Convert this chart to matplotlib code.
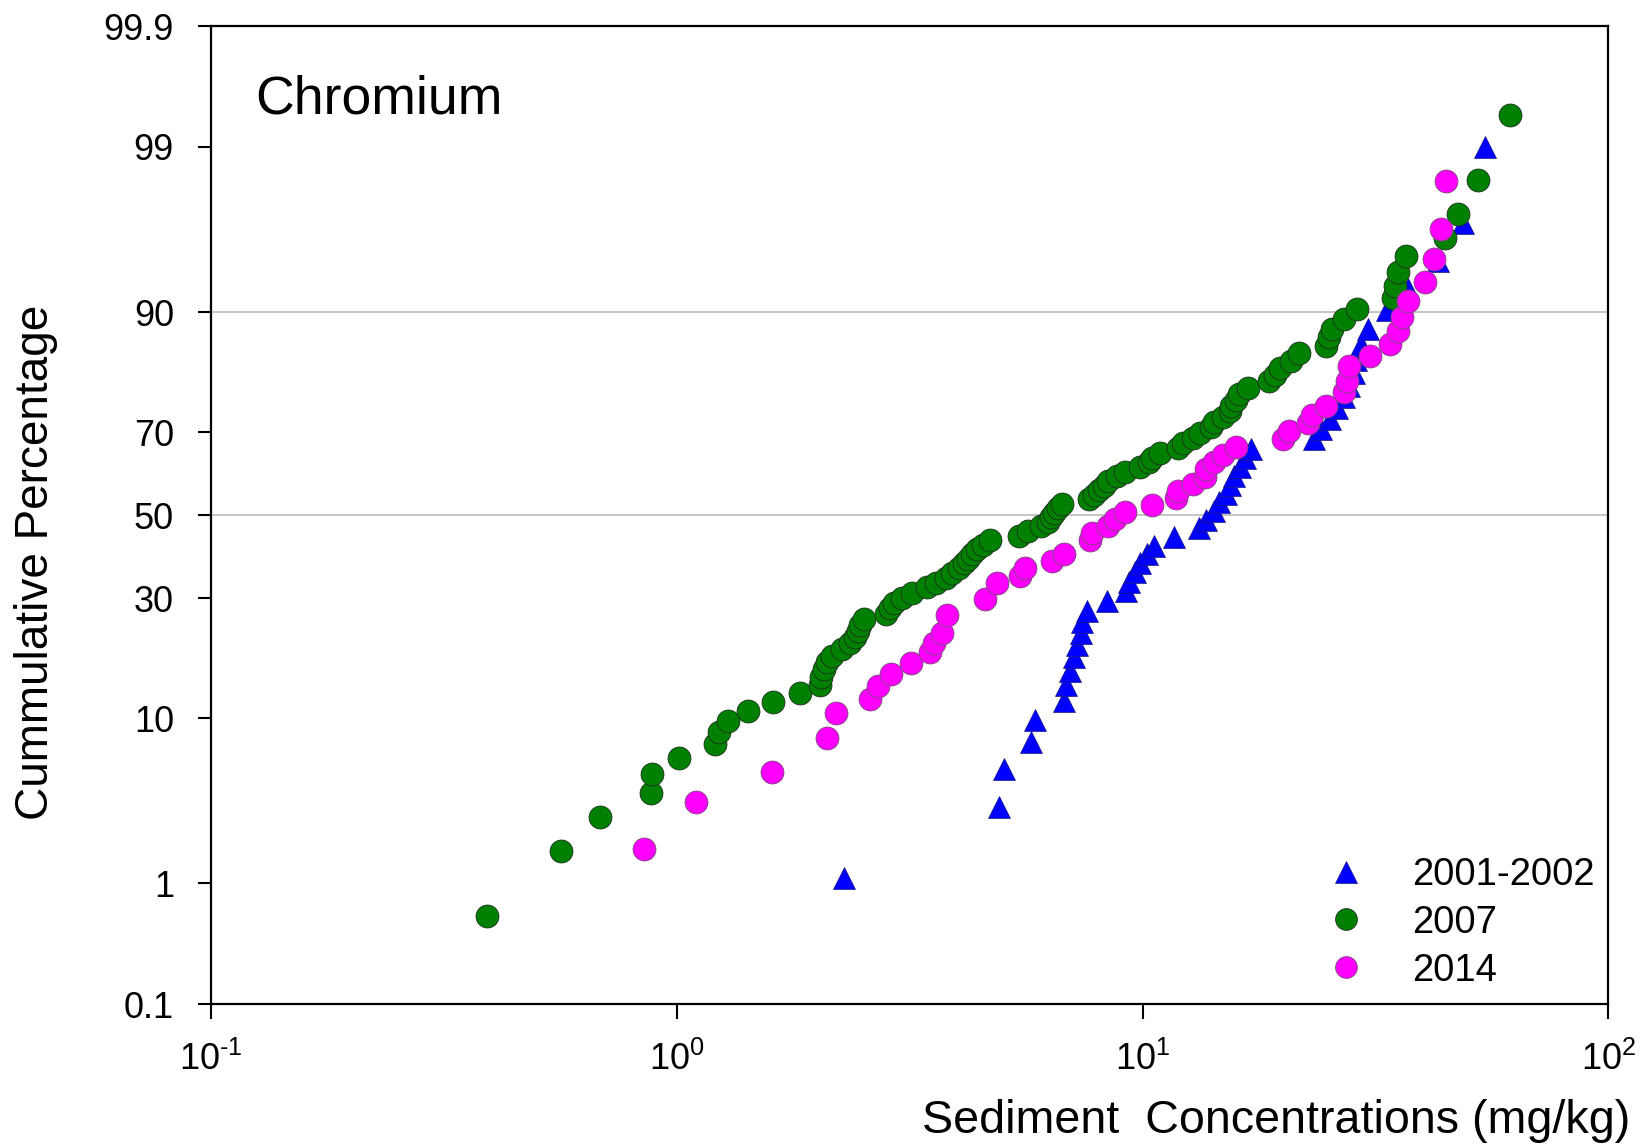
"""Probability plot of chromium sediment concentrations for three survey years."""

import statistics

import matplotlib
matplotlib.use("Agg")
import matplotlib.pyplot as plt
import numpy as np

plt.rcParams["font.family"] = ["Liberation Sans", "DejaVu Sans"]
plt.rcParams["mathtext.fontset"] = "custom"
plt.rcParams["mathtext.rm"] = "Liberation Sans"
plt.rcParams["mathtext.it"] = "Liberation Sans:italic"
plt.rcParams["mathtext.bf"] = "Liberation Sans:bold"

# ---------------------------------------------------------------------------
# Data (mg/kg, cumulative %)
# ---------------------------------------------------------------------------

conc_2001 = [2.29, 4.93, 5.04, 5.76, 5.89, 6.77, 6.84, 6.99, 7.13, 7.24,
             7.36, 7.43, 7.59, 8.38, 9.20, 9.34, 9.64, 9.89, 10.2, 10.6,
             11.7, 13.2, 13.7, 14.2, 14.6, 15.1, 15.4, 15.7, 16.2, 16.6,
             17.1, 23.3, 24.2, 25.3, 26.1, 27.0, 27.7, 28.4, 28.7, 29.4,
             30.5, 33.5, 37.2, 43.0, 48.7, 54.4]
pct_2001 = [1.09, 3.26, 5.43, 7.61, 9.78, 11.96, 14.13, 16.30, 18.48, 20.65,
            22.83, 25.00, 27.17, 29.35, 31.52, 33.70, 35.87, 38.04, 40.22, 42.39,
            44.57, 46.74, 48.91, 51.09, 53.26, 55.43, 57.61, 59.78, 61.96, 64.13,
            66.30, 68.48, 70.65, 72.83, 75.00, 77.17, 79.35, 81.52, 83.70, 85.87,
            88.04, 90.22, 92.39, 94.57, 96.74, 99.0]

conc_2007 = [0.391, 0.564, 0.685, 0.881, 0.887, 1.01, 1.21, 1.23, 1.29, 1.42,
             1.61, 1.84, 2.03, 2.04, 2.07, 2.10, 2.15, 2.26, 2.35, 2.41,
             2.45, 2.48, 2.52, 2.81, 2.87, 2.93, 3.04, 3.20, 3.45, 3.61,
             3.78, 3.90, 4.03, 4.13, 4.22, 4.31, 4.42, 4.54, 4.71, 5.42,
             5.67, 6.04, 6.26, 6.36, 6.46, 6.57, 6.70, 7.67, 7.87, 8.08,
             8.25, 8.42, 8.82, 9.15, 9.89, 10.3, 10.5, 10.9, 11.9, 12.2,
             12.8, 13.3, 14.0, 14.2, 14.9, 15.4, 15.5, 15.9, 16.1, 16.8,
             18.7, 19.2, 19.7, 20.8, 21.7, 24.8, 25.1, 25.5, 27.0, 28.8,
             34.4, 34.8, 35.3, 36.8, 44.6, 47.5, 52.4, 61.6]
pct_2007 = [0.57, 1.70, 2.84, 3.98, 5.11, 6.25, 7.39, 8.52, 9.66, 10.80,
            11.93, 13.07, 14.20, 15.34, 16.48, 17.61, 18.75, 19.89, 21.02, 22.16,
            23.30, 24.43, 25.57, 26.70, 27.84, 28.98, 30.11, 31.25, 32.39, 33.52,
            34.66, 35.80, 36.93, 38.07, 39.20, 40.34, 41.48, 42.61, 43.75, 44.89,
            46.02, 47.16, 48.30, 49.43, 50.57, 51.70, 52.84, 53.98, 55.11, 56.25,
            57.39, 58.52, 59.66, 60.80, 61.93, 63.07, 64.20, 65.34, 66.48, 67.61,
            68.75, 69.89, 71.02, 72.16, 73.30, 74.43, 75.57, 76.70, 77.84, 78.98,
            80.11, 81.25, 82.39, 83.52, 84.66, 85.80, 86.93, 88.07, 89.20, 90.34,
            91.48, 92.61, 93.75, 94.89, 96.02, 97.16, 98.30, 99.43]

conc_2014 = [0.852, 1.10, 1.60, 2.10, 2.20, 2.60, 2.71, 2.89, 3.19, 3.50,
             3.56, 3.71, 3.80, 4.59, 4.86, 5.47, 5.59, 6.38, 6.77, 7.70,
             7.79, 8.44, 8.73, 9.15, 10.5, 11.8, 11.9, 12.8, 13.6, 13.7,
             14.2, 14.9, 15.9, 20.0, 20.6, 22.7, 23.1, 24.7, 27.1, 27.4,
             27.8, 30.8, 34.0, 35.4, 36.0, 37.2, 40.4, 42.2, 43.7, 44.9]
pct_2014 = [1.75, 3.51, 5.26, 7.93, 10.53, 12.28, 14.04, 15.79, 17.54, 19.30,
            21.05, 22.81, 26.32, 29.82, 33.33, 35.09, 36.84, 38.60, 40.35, 43.86,
            45.61, 47.37, 49.12, 50.88, 52.63, 54.39, 56.14, 57.89, 59.65, 61.40,
            63.16, 64.91, 66.67, 68.42, 70.18, 71.93, 73.68, 75.44, 78.2, 80.1,
            82.7, 84.21, 85.96, 87.72, 89.47, 91.23, 92.98, 94.74, 96.49, 98.25]

series_labels = ["2001-2002", "2007", "2014"]

y_ticks = [0.1, 1, 10, 30, 50, 70, 90, 99, 99.9]
y_tick_labels = ["0.1", "1", "10", "30", "50", "70", "90", "99", "99.9"]
grid_levels = [50, 90]
x_ticks = [0.1, 1, 10, 100]
x_tick_labels = [r"$\mathdefault{10^{\text{-}1}}$", r"$\mathdefault{10^{0}}$",
                 r"$\mathdefault{10^{1}}$", r"$\mathdefault{10^{2}}$"]

# ---------------------------------------------------------------------------
# Probability (normal quantile) scale for the y axis
# ---------------------------------------------------------------------------

_norm = statistics.NormalDist()


def _probit(p):
    p = np.clip(np.asarray(p, dtype=float), 1e-6, 100 - 1e-6) / 100.0
    return np.vectorize(_norm.inv_cdf, otypes=[float])(p)


def _inv_probit(z):
    z = np.asarray(z, dtype=float)
    return np.vectorize(_norm.cdf, otypes=[float])(z) * 100.0


fig = plt.figure(figsize=(16.48, 11.47), dpi=100)
ax = fig.add_axes([0.1279, 0.1244, 0.8481, 0.8529])

ax.set_xscale("log")
ax.set_yscale("function", functions=(_probit, _inv_probit))

for level in grid_levels:
    ax.axhline(level, color="#c0c0c0", lw=1.3, zorder=0)

ms = 16.5
ax.plot(conc_2001, pct_2001, ls="none", marker="^", ms=ms, color="#0000ff",
        mec="#1a1a80", mew=0.5, label=series_labels[0], zorder=3)
ax.plot(conc_2007, pct_2007, ls="none", marker="o", ms=ms, color="#008000",
        mec="#1f2f1f", mew=0.6, label=series_labels[1], zorder=4)
ax.plot(conc_2014, pct_2014, ls="none", marker="o", ms=ms, color="#ff00ff",
        mec="#7a4a7a", mew=0.6, label=series_labels[2], zorder=5)

ax.set_xlim(0.1, 100)
ax.set_ylim(0.1, 99.9)
ax.set_xticks(x_ticks, x_tick_labels)
ax.set_yticks(y_ticks, y_tick_labels)
ax.xaxis.set_minor_locator(matplotlib.ticker.NullLocator())
ax.yaxis.set_minor_locator(matplotlib.ticker.NullLocator())

ax.tick_params(axis="both", direction="out", width=1.5, labelsize=26, colors="black")
ax.tick_params(axis="x", length=11, pad=16)
ax.tick_params(axis="y", length=9.5, pad=17)
for spine in ax.spines.values():
    spine.set_linewidth(1.6)

ax.set_xlabel("Sediment  Concentrations (mg/kg)", fontsize=33.6)
ax.xaxis.set_label_coords(0.7625, -0.097)
ax.set_ylabel("Cummulative Percentage", fontsize=33)
ax.yaxis.set_label_coords(-0.1095, 0.452)

ax.text(0.032, 0.9106, "Chromium", transform=ax.transAxes, fontsize=38.5,
        ha="left", va="baseline")

ax.legend(loc="lower right", bbox_to_anchor=(0.99, 0.016), frameon=False,
          fontsize=27.5, numpoints=1, handlelength=1.0, handletextpad=1.22,
          labelspacing=0.31, borderpad=0, borderaxespad=0, markerscale=0.95)

fig.savefig("out.png", dpi=100)
plt.close(fig)
